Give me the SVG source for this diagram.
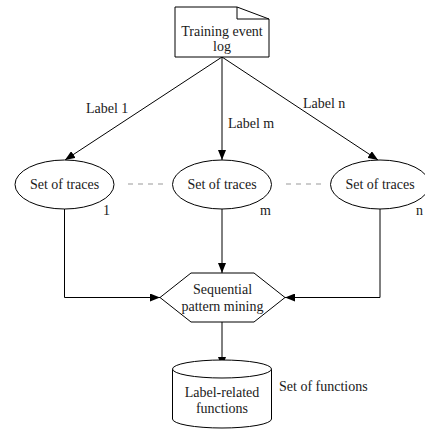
<svg xmlns="http://www.w3.org/2000/svg" width="425" height="430" viewBox="0 0 425 430">
<defs>
<style>
.s{fill:#fff;stroke:#000;stroke-width:1}
.t{font-family:"Liberation Serif","Times New Roman",serif;font-size:14px;fill:#1a1a1a}
.m{text-anchor:middle}
.c{fill:none;stroke:#000;stroke-width:1}
.d{fill:none;stroke:#999;stroke-width:1;stroke-dasharray:5 5}
</style>
<marker id="a" viewBox="0 0 10 8" refX="10" refY="4" markerWidth="10" markerHeight="8" markerUnits="userSpaceOnUse" orient="auto">
<path d="M0,0 L10,4 L0,8 Z" fill="#000"/>
</marker>
</defs>
<rect width="425" height="430" fill="#fff"/>
<g id="connectors">
<line class="c" x1="222" y1="57" x2="65" y2="160" marker-end="url(#a)"/>
<line class="c" x1="222" y1="57" x2="222" y2="160" marker-end="url(#a)"/>
<line class="c" x1="222" y1="57" x2="378" y2="160" marker-end="url(#a)"/>
<polyline class="c" points="64.5,209 64.5,297.5 160,297.5" marker-end="url(#a)"/>
<polyline class="c" points="380,209 380,297.5 285,297.5" marker-end="url(#a)"/>
<line class="c" x1="222" y1="209" x2="222" y2="273" marker-end="url(#a)"/>
<line class="c" x1="222" y1="322" x2="222" y2="367" marker-end="url(#a)"/>
<line class="d" x1="128" y1="184" x2="165" y2="184"/>
<line class="d" x1="286" y1="184" x2="323" y2="184"/>
<text class="t" x="86" y="113">Label 1</text>
<text class="t" x="228" y="128">Label m</text>
<text class="t" x="303" y="108">Label n</text>
</g>
<g id="log">
<path class="s" d="M175,7 H237 L269,19 V57 H175 Z"/>
<path class="c" d="M237,7 V19 H269" stroke-width="1.5"/>
<text class="t m" x="222" y="36">Training event</text>
<text class="t m" x="222" y="51">log</text>
</g>
<g id="traces1">
<ellipse class="s" cx="64.5" cy="184.5" rx="49.5" ry="24.5"/>
<text class="t m" x="64.5" y="189">Set of traces</text>
<text class="t" x="103" y="215">1</text>
</g>
<g id="tracesm">
<ellipse class="s" cx="222" cy="184.5" rx="49.5" ry="24.5"/>
<text class="t m" x="222" y="189">Set of traces</text>
<text class="t" x="260" y="215">m</text>
</g>
<g id="tracesn">
<ellipse class="s" cx="380" cy="184.5" rx="49.5" ry="24.5"/>
<text class="t m" x="380" y="189">Set of traces</text>
<text class="t" x="416" y="215">n</text>
</g>
<g id="mining">
<polygon class="s" points="160,297.5 191,273 254,273 285,297.5 254,322 191,322"/>
<text class="t m" x="222.5" y="294">Sequential</text>
<text class="t m" x="222.5" y="311">pattern mining</text>
</g>
<g id="functions">
<path class="s" d="M172.5,369 V419 A49.5,9 0 0 0 271.5,419 V369"/>
<ellipse class="s" cx="222" cy="369" rx="49.5" ry="9"/>
<text class="t m" x="222" y="397">Label-related</text>
<text class="t m" x="222" y="413">functions</text>
<text class="t" x="279" y="391">Set of functions</text>
</g>
</svg>
